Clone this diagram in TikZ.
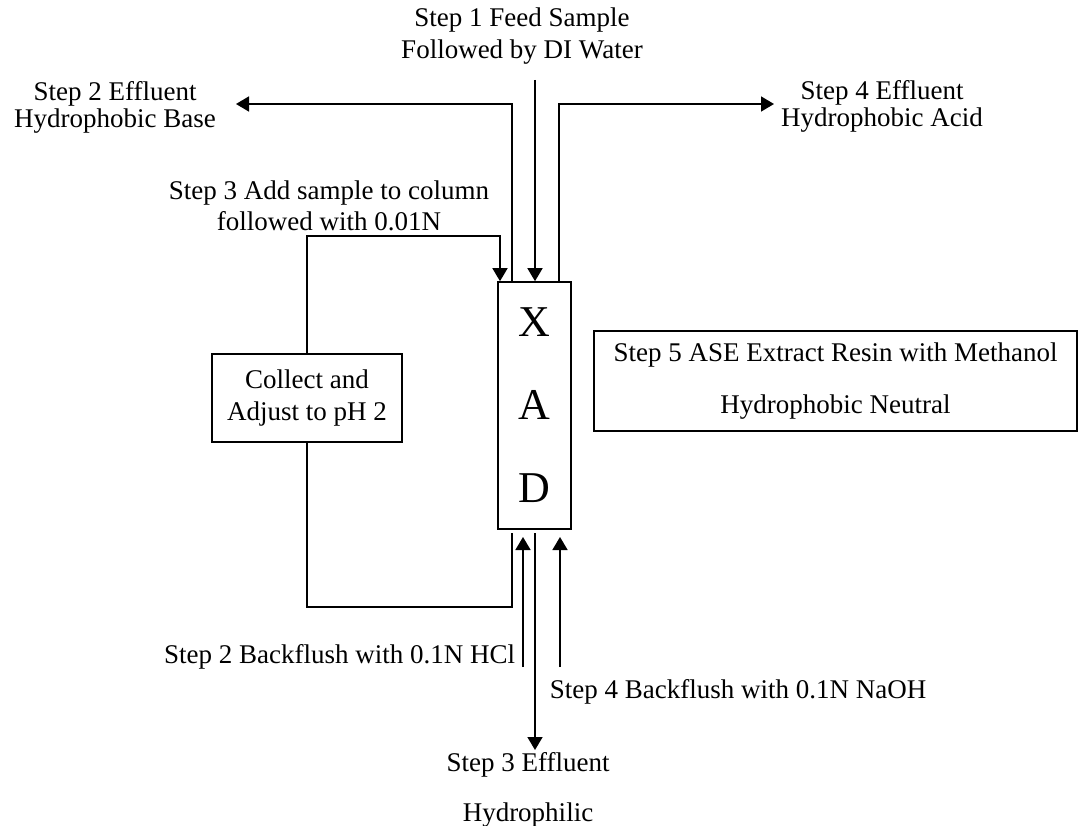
\documentclass[tikz,border=0pt]{standalone}
\usepackage{fontspec}
\setmainfont{Liberation Serif}
\usetikzlibrary{arrows.meta}
\begin{document}
\begin{tikzpicture}[x=1pt,y=-1pt,
  line width=1.6pt,
  lbl/.style={inner sep=0pt, align=center},
  boxed/.style={draw, line width=1.6pt, inner sep=0pt, align=center},
  arr/.style={-{Triangle[length=13pt,width=15pt]}},
]
\useasboundingbox (0,0) rectangle (1080,826);
\fill[white] (0,0) rectangle (1080,826);

% boxes
\node[boxed, minimum width=73pt, minimum height=247pt,
      font=\fontsize{44}{83}\selectfont] (xad) at (534.5,405.5) {X\\A\\D};
\node[boxed, minimum width=190pt, minimum height=88pt,
      font=\fontsize{27}{32}\selectfont] (collect) at (307,398) {Collect and\\Adjust to pH 2};
\node[boxed, minimum width=483pt, minimum height=100pt,
      font=\fontsize{27}{52}\selectfont] (s5) at (835.5,381) {Step 5 ASE Extract Resin with Methanol\\Hydrophobic Neutral};

% labels
\node[lbl, font=\fontsize{27}{32}\selectfont] (s1lbl) at (522,36) {Step 1 Feed Sample\\Followed by DI Water};
\node[lbl, font=\fontsize{27}{27}\selectfont] (s2lbl) at (115,107) {Step 2 Effluent\\Hydrophobic Base};
\node[lbl, font=\fontsize{27}{27}\selectfont] (s4lbl) at (882,106) {Step 4 Effluent\\Hydrophobic Acid};
\node[lbl, font=\fontsize{27}{31}\selectfont] (s3lbl) at (329,206) {Step 3 Add sample to column\\followed with 0.01N};
\node[lbl, font=\fontsize{27}{32}\selectfont, anchor=east] (b2lbl) at (516,657) {Step 2 Backflush with 0.1N HCl};
\node[lbl, font=\fontsize{27}{32}\selectfont, anchor=west] (b4lbl) at (549,692) {Step 4 Backflush with 0.1N NaOH};
\node[lbl, font=\fontsize{27}{50}\selectfont] (e3lbl) at (528,790) {Step 3 Effluent\\Hydrophilic};

% coordinates
\coordinate (s1a) at (535,80);
\coordinate (s2c) at (512,104);
\coordinate (s2tip) at (236,104);
\coordinate (s4c) at (559,104);
\coordinate (s4tip) at (774,104);
\coordinate (s3c) at (500,236);
\coordinate (ret) at (512,607);
\coordinate (retend) at (512,533);
\coordinate (b2a) at (523,667);
\coordinate (b2b) at (523,537);
\coordinate (e3a) at (535,533);
\coordinate (e3b) at (535,750);
\coordinate (b4a) at (560,667);
\coordinate (b4b) at (560,537);

% connectors
\draw[arr] (s1a) -- (s1a |- xad.north);
\draw[arr] (s2c |- xad.north) -- (s2c) -- (s2tip);
\draw[arr] (s4c |- xad.north) -- (s4c) -- (s4tip);
\draw[arr] (collect.north) |- (s3c) -- (s3c |- xad.north);
\draw (collect.south) |- (ret) -- (retend);
\draw[arr] (b2a) -- (b2b);
\draw[arr] (e3a) -- (e3b);
\draw[arr] (b4a) -- (b4b);
\end{tikzpicture}
\end{document}
